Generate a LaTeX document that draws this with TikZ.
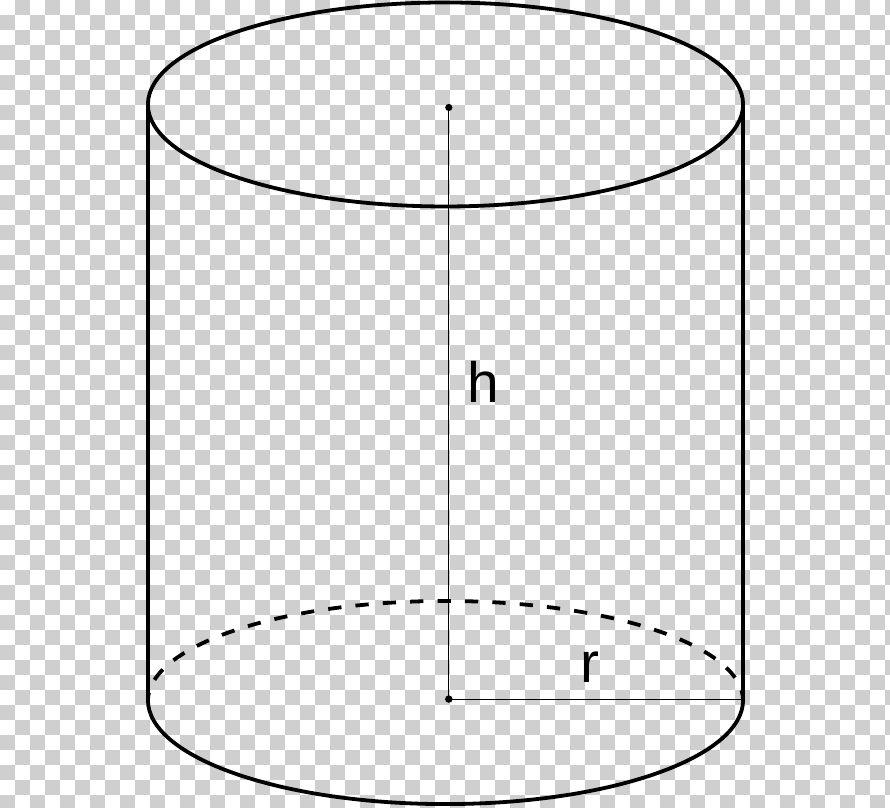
\documentclass[tikz,border=0pt]{standalone}
\usepackage{fontspec}
\setmainfont{Liberation Sans}
\definecolor{checkgray}{HTML}{CFCFCF}
\begin{document}
\begin{tikzpicture}[line join=round,line cap=butt,thickline/.style={line width=3.6pt},thinline/.style={line width=0.9pt},
	lab/.style={font=\fontsize{54}{54}\selectfont,inner sep=0pt}]
	\def\W{29.667} % anh rong
	\def\H{26.933} % anh cao
	\def\a{9.92} % ban truc lon
	\def\b{3.4} % ban truc nho
	\def\h{19.85} % chieu cao tru
	\useasboundingbox (0,0) rectangle (\W,\H);
	\clip (0,0) rectangle (\W,\H);
	% nen o vuong
	\fill[white] (0,0) rectangle (\W,\H);
	\foreach \i in {0,...,59}{
		\foreach \j in {0,...,53}{
			\ifodd\numexpr\i+\j\relax
				\fill[checkgray] (\i*0.5,\H-\j*0.5) rectangle ++(0.5,-0.5);
			\fi
		}
	}
	\path
	(14.85,3.6) coordinate (C)
	(14.85,23.45) coordinate (C')
	(14.96,3.63) coordinate (O)
	(14.96,23.35) coordinate (O')
	(24.77,3.63) coordinate (R);
	% ve cac canh ben
	\draw[thickline] (C)++(\a,0)--++(0,\h) (C)++(-\a,0)--++(0,\h);
	% ve day tren
	\draw[thickline] (C') ellipse (\a cm and \b cm);
	% ve day duoi
	\draw[thickline] (C)++(\a,0) arc [x radius=\a, y radius=3.47, start angle=0, end angle=-180];
	\draw[thickline,dash pattern=on 12.6pt off 13.4pt,dash phase=2.3pt] (14.85,3.57)++(\a,0) arc [x radius=\a, y radius=3.33, start angle=0, end angle=180];
	% duong cao va ban kinh
	\draw[thinline] (O)--(O') (O)--(R);
	\fill (O') circle(0.12);
	\fill (O) circle(0.125);
	\node[lab] (h) at (16.1,14.22) {h};
	\node[lab] (r) at (19.68,4.7) {r};
\end{tikzpicture}
\end{document}
